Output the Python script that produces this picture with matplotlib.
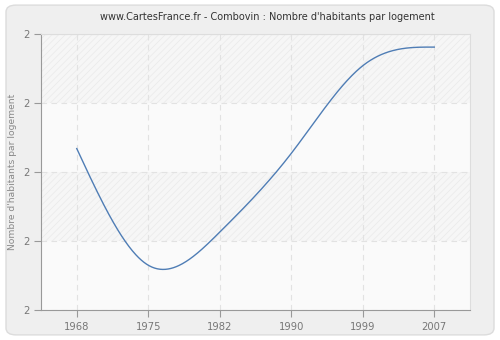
import numpy as np
import matplotlib
matplotlib.use("Agg")
import matplotlib.pyplot as plt
from matplotlib.patches import FancyBboxPatch

years = ["1968", "1975", "1982", "1990", "1999", "2007"]
values = [2.234, 2.065, 2.113, 2.227, 2.354, 2.381]
y_ticks = [2.0, 2.1, 2.2, 2.3, 2.4]
y_tick_labels = ["2", "2", "2", "2", "2"]


def natural_spline(x, y, n=400):
    # natural cubic spline through the points
    x = np.asarray(x, float)
    y = np.asarray(y, float)
    k = len(x)
    h = np.diff(x)
    A = np.zeros((k, k))
    b = np.zeros(k)
    A[0, 0] = A[-1, -1] = 1
    for i in range(1, k - 1):
        A[i, i - 1] = h[i - 1]
        A[i, i] = 2 * (h[i - 1] + h[i])
        A[i, i + 1] = h[i]
        b[i] = 6 * ((y[i + 1] - y[i]) / h[i] - (y[i] - y[i - 1]) / h[i - 1])
    M = np.linalg.solve(A, b)
    xs = np.linspace(x[0], x[-1], n)
    ys = np.empty_like(xs)
    for j, t in enumerate(xs):
        i = min(np.searchsorted(x, t, side="right") - 1, k - 2)
        a = x[i + 1] - t
        c = t - x[i]
        ys[j] = (M[i] * a**3 + M[i + 1] * c**3) / (6 * h[i]) \
            + (y[i] / h[i] - M[i] * h[i] / 6) * a \
            + (y[i + 1] / h[i] - M[i + 1] * h[i] / 6) * c
    return xs, ys


plt.rcParams["hatch.linewidth"] = 0.6

fig = plt.figure(figsize=(5, 3.4), dpi=100)
fig.patch.set_facecolor("white")
fig.patches.append(FancyBboxPatch((0.012, 0.015), 0.976, 0.97,
                                  boxstyle="round,pad=0,rounding_size=0.02",
                                  transform=fig.transFigure, facecolor="#efefef",
                                  edgecolor="#dcdcdc", linewidth=1.0, zorder=-5))

ax = fig.add_axes([0.082, 0.088, 0.858, 0.812])
ax.set_facecolor("#fafafa")

x = np.arange(len(years))
ax.set_xlim(-0.5, len(years) - 0.5)
ax.set_ylim(y_ticks[0], y_ticks[-1])

# alternating hatched bands
for i in range(len(y_ticks) - 1):
    if (len(y_ticks) - 2 - i) % 2 == 0:
        ax.axhspan(y_ticks[i], y_ticks[i + 1], facecolor="#f6f6f6", edgecolor="#ebebeb",
                   hatch="/////", linewidth=0, zorder=0)

ax.grid(True, color="#e2e2e2", linestyle=(0, (5, 4)), linewidth=0.8)
ax.set_axisbelow(True)

xs, ys = natural_spline(x, values)
ax.plot(xs, ys, color="#4f7db5", linewidth=1.0, zorder=3)

ax.set_xticks(x)
ax.set_xticklabels(years)
ax.set_yticks(y_ticks)
ax.set_yticklabels(y_tick_labels)
ax.tick_params(colors="#999999", labelcolor="#777777", labelsize=7.2, length=5, width=0.8)

for s in ["top", "right"]:
    ax.spines[s].set_color("#dddddd")
for s in ["left", "bottom"]:
    ax.spines[s].set_color("#999999")

ax.set_ylabel("Nombre d'habitants par logement", color="#888888", fontsize=6.6)
ax.yaxis.set_label_coords(-0.055, 0.5)
fig.text(0.534, 0.95, "www.CartesFrance.fr - Combovin : Nombre d'habitants par logement",
         ha="center", va="center", fontsize=7, color="#333333")

fig.savefig("out.png", dpi=100)
